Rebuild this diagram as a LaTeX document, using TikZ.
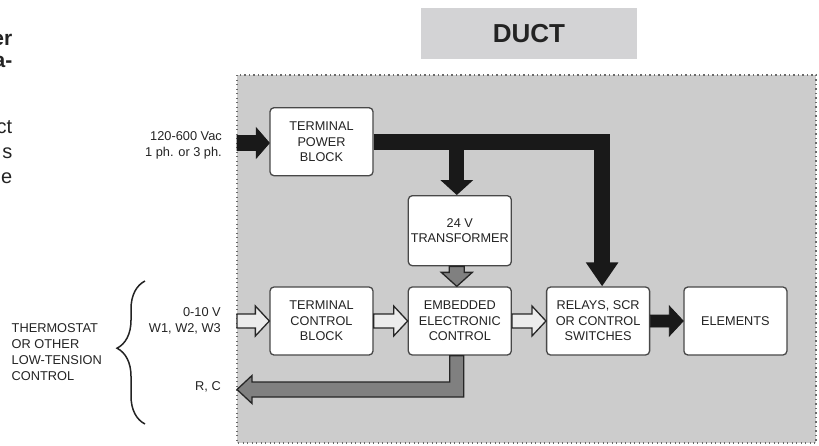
\documentclass[tikz,border=0pt]{standalone}
\usepackage{fontspec}
\setmainfont{Liberation Sans}
\usepackage{tikz}
\usetikzlibrary{arrows.meta, positioning, calc, decorations.pathreplacing}
\usepackage{xcolor}
\definecolor{cDuct}{RGB}{204,204,204}
\definecolor{cTitle}{RGB}{211,211,213}
\definecolor{cEdge}{RGB}{72,72,72}
\definecolor{cFrame}{RGB}{105,105,105}
\definecolor{cBus}{RGB}{25,25,25}
\definecolor{cSignal}{RGB}{236,236,236}
\definecolor{cReturn}{RGB}{128,128,128}
\definecolor{cInk}{RGB}{35,35,35}
\tikzset{
  fat shaft/.store in=\fatshaft, fat head/.store in=\fathead,
  fat tip/.store in=\fattip,
  fat shaft=7pt, fat head=15pt, fat tip=14pt,
  hfat/.style={to path={let \p1=(\tikztostart), \p2=(\tikztotarget) in
      (\x1,\y1+\fatshaft) -- (\x2-\fattip,\y1+\fatshaft)
      -- (\x2-\fattip,\y1+\fathead) -- (\x2,\y1)
      -- (\x2-\fattip,\y1-\fathead) -- (\x2-\fattip,\y1-\fatshaft)
      -- (\x1,\y1-\fatshaft) -- cycle}},
  vfat/.style={to path={let \p1=(\tikztostart), \p2=(\tikztotarget) in
      (\x1-\fatshaft,\y1) -- (\x1-\fatshaft,\y2+\fattip)
      -- (\x1-\fathead,\y2+\fattip) -- (\x1,\y2)
      -- (\x1+\fathead,\y2+\fattip) -- (\x1+\fatshaft,\y2+\fattip)
      -- (\x1+\fatshaft,\y1) -- cycle}},
  blockbox/.style={rectangle, rounded corners=4pt, draw=cEdge, fill=white,
                   line width=1.3pt, align=center, text=cInk, inner sep=2pt,
                   minimum width=103pt, minimum height=68pt,
                   font=\fontsize{12.7}{15.5}\selectfont},
  titlebox/.style={rectangle, fill=cTitle, minimum width=216pt,
                   minimum height=51pt, text=cInk,
                   font=\fontsize{26}{30}\selectfont\bfseries},
  sidelabel/.style={align=right, anchor=east, inner sep=0pt, text=cInk,
                    font=\fontsize{12.8}{16}\selectfont},
  ductframe/.style={draw=cFrame, fill=cDuct, line width=1.3pt,
                    dash pattern=on 1.3pt off 3.2pt},
  powerarrow/.style={draw=cBus, fill=cBus, line width=0.8pt, line join=miter,
                     fat shaft=7.5pt, fat head=15pt, fat tip=13pt},
  signalarrow/.style={draw=black!85, fill=cSignal, line width=1.3pt,
                      line join=miter},
  returnarrow/.style={draw=black!85, fill=cReturn, line width=1.3pt,
                      line join=miter},
  busline/.style={draw=cBus, line width=16pt, line join=miter,
                  -{Triangle[width=31pt,length=24pt]}}
}

\begin{document}
\begin{tikzpicture}[x=1pt, y=-1pt, node distance=34pt]

  \useasboundingbox (0,0) rectangle (819,445);

  % Duct area
  \draw[ductframe] (237,75) rectangle (816,443);
  \node[titlebox] (duct) at (529,33.5) {DUCT};

  % Cut-off text on the left
  \node[align=right, anchor=east, inner sep=0pt, text=cInk,
        font=\fontsize{21}{22}\selectfont\bfseries] (fragA) at (12.5,51) {er\\a-};
  \node[align=right, anchor=east, inner sep=0pt, text=cInk,
        font=\fontsize{20}{25}\selectfont] (fragB) at (12.5,152) {ct\\s\\e};

  % Blocks
  \node[blockbox] (tcb) at (321.5,321) {TERMINAL\\CONTROL\\BLOCK};
  \node[blockbox, right=of tcb] (ecu) {EMBEDDED\\ELECTRONIC\\CONTROL};
  \node[blockbox, above=20pt of ecu, minimum height=70pt] (trans)
      {24 V\\TRANSFORMER};
  \node[blockbox, above=110pt of tcb] (tpb) {TERMINAL\\POWER\\BLOCK};
  \node[blockbox, right=of ecu] (relays) {RELAYS, SCR\\OR CONTROL\\SWITCHES};
  \node[blockbox, right=33pt of relays] (elements) {ELEMENTS};

  % Outside labels
  \node[sidelabel] (pwrlbl) at (222,145) {120-600 Vac\\1 ph. or 3 ph.};
  \node[sidelabel] (ctllbl) at (221,321) {0-10 V\\W1, W2, W3};
  \node[sidelabel] (rclbl) at (221,387) {R, C};
  \node[sidelabel, align=left, anchor=west] (tstat) at (11.5,352)
      {THERMOSTAT\\OR OTHER\\LOW-TENSION\\CONTROL};
  \draw[cInk, line width=1.5pt, decorate,
        decoration={brace, amplitude=28pt, aspect=0.53}]
      (145,424) -- (145,281);

  % Ends on the duct wall
  \coordinate (pwrin) at (237,143);
  \coordinate (ctlin) at (237,321);
  \coordinate (rcout) at (237,389.5);
  \coordinate (ecuout) at ([xshift=-3pt]ecu.south);

  % Power
  \draw[powerarrow] (pwrin) to[hfat] (tpb.west);
  \draw[busline] (tpb.east) -| ($(relays.north)+(4,0)$);
  \draw[busline, line width=15pt, -{Triangle[width=32pt,length=15pt]}]
      ($(tpb.east -| trans.north)+(-3,0)$) -- ($(trans.north)+(-3,0)$);
  \draw[powerarrow, fat shaft=6pt, fat tip=14pt]
      (relays.east) to[hfat] (elements.west);

  % Control
  \draw[signalarrow] (ctlin) to[hfat] (tcb.west);
  \draw[signalarrow] (tcb.east) to[hfat] (ecu.west);
  \draw[signalarrow] (ecu.east) to[hfat] (relays.west);
  \draw[returnarrow, fat shaft=7.5pt, fat head=15.5pt, fat tip=14pt]
      ($(trans.south)+(-3,0)$) to[vfat] ($(ecu.north)+(-3,0)$);
  \draw[returnarrow] ($(ecuout)+(7,0)$) -- ($(ecuout |- rcout)+(7,7.5)$)
      -- ($(rcout)+(15,7.5)$) -- ($(rcout)+(15,14)$) -- (rcout)
      -- ($(rcout)+(15,-14)$) -- ($(rcout)+(15,-7.5)$)
      -- ($(ecuout |- rcout)+(-7,-7.5)$) -- ($(ecuout)+(-7,0)$) -- cycle;

\end{tikzpicture}
\end{document}
